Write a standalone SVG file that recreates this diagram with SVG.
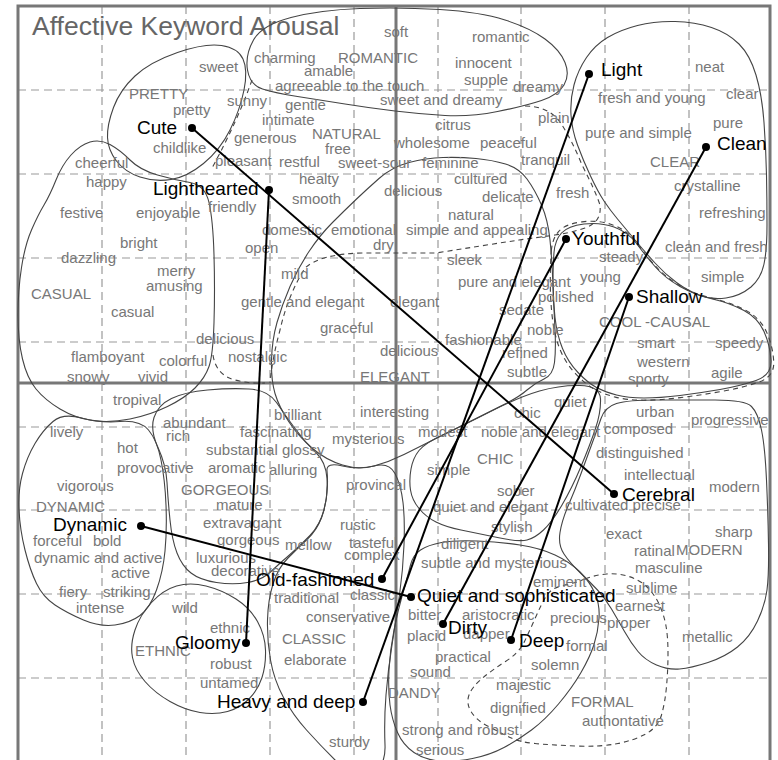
<svg xmlns="http://www.w3.org/2000/svg" width="778" height="760" viewBox="0 0 778 760">
  <style>
    .g { font-family: "Liberation Sans", Arial, sans-serif; font-size: 15px; fill: #777; }
    .k { font-family: "Liberation Sans", Arial, sans-serif; font-size: 19px; fill: #000; }
    .title { font-family: "Liberation Sans", Arial, sans-serif; font-size: 26.5px; fill: #666; }
    .grid { stroke: #9a9a9a; stroke-width: 1.2; stroke-dasharray: 8 5; fill: none; }
    .axis { stroke: #777; stroke-width: 3; fill: none; }
    .reg { fill: none; stroke: #444; stroke-width: 1.1; }
    .regd { fill: none; stroke: #444; stroke-width: 1.1; stroke-dasharray: 5 4; }
    .conn { stroke: #000; stroke-width: 2; fill: none; }
    .dot { fill: #000; }
  </style>

  <rect x="0" y="0" width="778" height="760" fill="#fff"/>

  <!-- dashed reference grid -->
  <g id="grid" class="grid">
    <path d="M102,6V760 M186,6V760 M270,6V760 M354,6V760 M438,6V760 M521,6V760 M605,6V760 M689,6V760"/>
    <path d="M18,90H770 M18,174H770 M18,258H770 M18,342H770 M18,427H770 M18,510H770 M18,594H770 M18,678H770"/>
  </g>

  <!-- frame and the two main axes -->
  <g id="frame">
    <rect x="18" y="6" width="752" height="800" class="axis"/>
    <path class="axis" d="M396,6V760 M18,383H770"/>
  </g>

  <text class="title" x="32" y="35">Affective Keyword Arousal</text>

  <!-- image-scale regions -->
  <g id="regions">
    <path id="r-pretty" class="reg" d="M177.5,52.5 Q205,43 221.5,45.5 Q238,48 243,59 Q248,70 244,90 Q240,110 230,130 Q220,150 203.5,163.5 Q187,177 171,179.5 Q155,182 140,177 Q125,172 116.5,161 Q108,150 107.5,137.5 Q107,125 113.5,107.5 Q120,90 135,76 Q150,62 177.5,52.5 Z"/>
    <path id="r-romantic" class="reg" d="M247.5,70 Q245,55 253.5,40 Q262,25 291,17.5 Q320,10 360,8.5 Q400,7 440,9.5 Q480,12 505,20 Q530,28 545,39 Q560,50 565,62.5 Q570,75 564,85 Q558,95 541.5,100.5 Q525,106 497.5,111.5 Q470,117 445,115.5 Q420,114 395,111 Q370,108 345,104 Q320,100 297.5,96.5 Q275,93 262.5,89 Q250,85 247.5,70 Z"/>
    <path id="r-clear" class="reg" d="M604,201 Q598,192 590.5,176 Q583,160 577.5,145 Q572,130 571,115 Q570,100 574,85 Q578,70 586.5,57.5 Q595,45 607.5,37.5 Q620,30 637.5,25.5 Q655,21 675,21.5 Q695,22 711.5,27.5 Q728,33 739,44 Q750,55 756,75 Q762,95 764,122.5 Q766,150 766.5,175 Q767,200 767,225 Q767,250 764,264 Q761,278 751,287 Q740,296 726,298 Q712,300 700,295.5 Q688,291 676.5,282.5 Q665,274 655,263 Q645,252 635,240 Q625,228 617.5,219 Q610,210 604,201 Z"/>
    <path id="r-casual" class="reg" d="M44,205 Q50,195 56,180 Q62,165 71,155 Q80,145 90,142 Q100,139 110,144.5 Q120,150 130,160 Q140,170 157.5,175 Q175,180 190,182.5 Q205,185 209,202.5 Q213,220 214,255 Q215,290 214,322.5 Q213,355 209,366.5 Q205,378 195,388 Q185,398 167.5,406.5 Q150,415 130,419 Q110,423 92.5,420.5 Q75,418 60,409 Q45,400 36,389 Q27,378 22.5,359 Q18,340 18,315 Q18,290 21.5,267.5 Q25,245 31.5,230 Q38,215 44,205 Z"/>
    <path id="r-natural" class="regd" d="M252,80 Q238,120 212,168 M525,106 Q548,106 560,122 Q572,140 582,165 Q595,190 600,205 Q602,222 585,228 Q570,233 555,235 L519,240 Q480,246 436,253 L362,253 Q320,254 305,268 Q288,295 280,330 Q272,360 270,383 M213,355 Q216,375 235,380 Q250,384 265,383"/>
    <path id="r-elegant" class="reg" d="M379,178.5 Q392,167 409,162.5 Q426,158 443,157.5 Q460,157 476,158.5 Q492,160 505.5,164 Q519,168 527,179 Q535,190 541.5,205 Q548,220 550,240 Q552,260 553,285 Q554,310 555,330 Q556,350 554.5,362.5 Q553,375 544,379 Q535,383 527,390 Q519,397 504,404.5 Q489,412 474,419.5 Q459,427 439,437 Q419,447 404,454.5 Q389,462 374,466 Q359,470 342.5,465 Q326,460 312.5,448.5 Q299,437 289,422 Q279,407 275,393.5 Q271,380 271.5,360 Q272,340 277,322.5 Q282,305 290,286.5 Q298,268 309,251.5 Q320,235 332.5,222.5 Q345,210 355.5,200 Q366,190 379,178.5 Z"/>
    <path id="r-cool" class="reg" d="M554,252.5 Q555,240 561.5,233 Q568,226 584,224 Q600,222 614,227 Q628,232 636.5,243.5 Q645,255 655,266.5 Q665,278 680,286.5 Q695,295 712.5,299 Q730,303 744,310.5 Q758,318 764,331.5 Q770,345 771,360 Q772,375 756,380.5 Q740,386 720,389.5 Q700,393 680,395.5 Q660,398 644,398 Q628,398 616.5,395 Q605,392 596.5,387.5 Q588,383 578,372.5 Q568,362 562.5,348.5 Q557,335 555,317.5 Q553,300 553,282.5 Q553,265 554,252.5 Z"/>
    <path id="r-cool-d" class="regd" transform="translate(662 310) scale(1.025) translate(-662 -310)" d="M554,252.5 Q555,240 561.5,233 Q568,226 584,224 Q600,222 614,227 Q628,232 636.5,243.5 Q645,255 655,266.5 Q665,278 680,286.5 Q695,295 712.5,299 Q730,303 744,310.5 Q758,318 764,331.5 Q770,345 771,360 Q772,375 756,380.5 Q740,386 720,389.5 Q700,393 680,395.5 Q660,398 644,398 Q628,398 616.5,395 Q605,392 596.5,387.5 Q588,383 578,372.5 Q568,362 562.5,348.5 Q557,335 555,317.5 Q553,300 553,282.5 Q553,265 554,252.5 Z"/>
    <path id="r-dynamic" class="reg" d="M53,421.5 Q63,413 81.5,418 Q100,423 120,421.5 Q140,420 148.5,430 Q157,440 161,460 Q165,480 166,505 Q167,530 165,551 Q163,572 156.5,590 Q150,608 140,615.5 Q130,623 115,625 Q100,627 83.5,620 Q67,613 55,605 Q43,597 36.5,583.5 Q30,570 25,550 Q20,530 19,510 Q18,490 22.5,473.5 Q27,457 35,443.5 Q43,430 53,421.5 Z"/>
    <path id="r-gorgeous" class="reg" d="M158,447.5 Q150,430 154,417.5 Q158,405 171.5,398.5 Q185,392 207.5,390 Q230,388 249,389 Q268,390 276.5,402.5 Q285,415 295,428.5 Q305,442 315.5,452 Q326,462 327,478.5 Q328,495 324,510 Q320,525 310,535.5 Q300,546 290,554.5 Q280,563 271,571.5 Q262,580 247.5,582.5 Q233,585 216.5,582.5 Q200,580 191,573 Q182,566 177,553 Q172,540 170,520 Q168,500 167,482.5 Q166,465 158,447.5 Z"/>
    <path id="r-ethnic" class="reg" d="M151.5,602.5 Q163,590 176.5,586 Q190,582 206,586 Q222,590 236,599 Q250,608 257.5,621.5 Q265,635 265.5,650 Q266,665 262,677.5 Q258,690 249,699 Q240,708 227.5,711.5 Q215,715 200,712.5 Q185,710 170,701.5 Q155,693 145,681.5 Q135,670 132.5,657.5 Q130,645 135,630 Q140,615 151.5,602.5 Z"/>
    <path id="r-classic" class="reg" d="M327,471 Q326,462 342.5,466 Q359,470 374,466 Q389,462 395,473.5 Q401,485 403,502.5 Q405,520 404,545 Q403,570 399.5,595 Q396,620 392,645 Q388,670 386,695 Q384,720 385,745 Q386,770 368,772.5 Q350,775 335,760 Q320,745 306.5,730 Q293,715 283.5,697.5 Q274,680 270.5,660 Q267,640 267.5,620 Q268,600 273,584 Q278,568 288,558 Q298,548 307.5,539 Q317,530 321.5,517.5 Q326,505 327,492.5 Q328,480 327,471 Z"/>
    <path id="r-chic" class="reg" d="M410.5,490 Q409,480 411,469 Q413,458 419,450.5 Q425,443 442.5,435 Q460,427 489.5,412 Q519,397 539.5,391 Q560,385 580,385.5 Q600,386 600.5,399 Q601,412 595.5,428.5 Q590,445 581,466.5 Q572,488 562,505 Q552,522 543.5,530 Q535,538 527,540 Q519,542 497.5,537.5 Q476,533 461,530 Q446,527 436,522 Q426,517 419,508.5 Q412,500 410.5,490 Z"/>
    <path id="r-modern" class="reg" d="M601,418.5 Q605,407 616.5,403.5 Q628,400 656.5,400 Q685,400 715,400 Q745,400 751.5,406.5 Q758,413 761.5,430 Q765,447 766.5,480 Q768,513 768.5,544 Q769,575 767,590 Q765,605 757.5,621 Q750,637 737.5,647 Q725,657 708,662.5 Q691,668 679.5,669 Q668,670 656.5,665 Q645,660 638,651.5 Q631,643 624.5,631.5 Q618,620 611.5,609 Q605,598 597.5,590 Q590,582 580,572.5 Q570,563 564,554 Q558,545 560,532.5 Q562,520 568.5,505 Q575,490 580.5,475 Q586,460 591.5,445 Q597,430 601,418.5 Z"/>
    <path id="r-formal" class="regd" d="M585,579 Q575,583 563,585.5 Q551,588 546,596.5 Q541,605 535.5,617.5 Q530,630 524.5,641.5 Q519,653 505.5,661.5 Q492,670 482,678.5 Q472,687 469,695 Q466,703 471,711.5 Q476,720 487.5,726 Q499,732 509,737 Q519,742 535,743.5 Q551,745 576,746 Q601,747 618,743.5 Q635,740 646.5,733.5 Q658,727 661.5,715 Q665,703 666.5,686.5 Q668,670 668,653.5 Q668,637 666,626 Q664,615 659.5,605 Q655,595 647.5,587.5 Q640,580 629,576.5 Q618,573 606.5,574 Q595,575 585,579 Z"/>
    <path id="r-dandy" class="reg" d="M403,592.5 Q408,575 410.5,565 Q413,555 420.5,550 Q428,545 441.5,542.5 Q455,540 477.5,541 Q500,542 520,545 Q540,548 555,555 Q570,562 580,572 Q590,582 595,593.5 Q600,605 599,618.5 Q598,632 594,644.5 Q590,657 581,672.5 Q572,688 558.5,704 Q545,720 531.5,730 Q518,740 504,747.5 Q490,755 472.5,758.5 Q455,762 440,761 Q425,760 414,752.5 Q403,745 397.5,732.5 Q392,720 390,705 Q388,690 389,670 Q390,650 394,630 Q398,610 403,592.5 Z"/>
  </g>

  <!-- keyword vocabulary -->
  <g id="words" class="g">
    <text x="384" y="37">soft</text>
    <text x="472" y="42">romantic</text>
    <text x="199" y="72">sweet</text>
    <text x="254" y="63">charming</text>
    <text x="338" y="63">ROMANTIC</text>
    <text x="304" y="76">amable</text>
    <text x="455" y="68">innocent</text>
    <text x="695" y="72">neat</text>
    <text x="464" y="85">supple</text>
    <text x="275" y="91">agreeable to the touch</text>
    <text x="513" y="92">dreamy</text>
    <text x="129" y="99">PRETTY</text>
    <text x="726" y="99">clear</text>
    <text x="598" y="103">fresh and young</text>
    <text x="380" y="105">sweet and dreamy</text>
    <text x="227" y="106">sunny</text>
    <text x="285" y="110">gentle</text>
    <text x="173" y="115">pretty</text>
    <text x="538" y="123">plain</text>
    <text x="262" y="125">intimate</text>
    <text x="713" y="128">pure</text>
    <text x="435" y="130">citrus</text>
    <text x="585" y="138">pure and simple</text>
    <text x="312" y="139">NATURAL</text>
    <text x="234" y="143">generous</text>
    <text x="394" y="148">wholesome</text>
    <text x="480" y="148">peaceful</text>
    <text x="153" y="153">childlike</text>
    <text x="325" y="154">free</text>
    <text x="521" y="165">tranquil</text>
    <text x="215" y="166">pleasant</text>
    <text x="279" y="167">restful</text>
    <text x="650" y="167">CLEAR</text>
    <text x="338" y="168">sweet-sour</text>
    <text x="422" y="168">feminine</text>
    <text x="75" y="168">cheerful</text>
    <text x="299" y="184">healty</text>
    <text x="454" y="184">cultured</text>
    <text x="86" y="187">happy</text>
    <text x="674" y="191">crystalline</text>
    <text x="384" y="196">delicious</text>
    <text x="556" y="198">fresh</text>
    <text x="482" y="202">delicate</text>
    <text x="292" y="204">smooth</text>
    <text x="208" y="212">friendly</text>
    <text x="60" y="218">festive</text>
    <text x="136" y="218">enjoyable</text>
    <text x="699" y="218">refreshing</text>
    <text x="448" y="220">natural</text>
    <text x="262" y="235">domestic</text>
    <text x="331" y="235">emotional</text>
    <text x="406" y="235">simple and appealing</text>
    <text x="120" y="248">bright</text>
    <text x="373" y="250">dry</text>
    <text x="665" y="252">clean and fresh</text>
    <text x="245" y="253">open</text>
    <text x="599" y="262">steady</text>
    <text x="61" y="263">dazzling</text>
    <text x="447" y="265">sleek</text>
    <text x="157" y="276">merry</text>
    <text x="281" y="279">mild</text>
    <text x="580" y="282">young</text>
    <text x="701" y="282">simple</text>
    <text x="458" y="287">pure and elegant</text>
    <text x="146" y="291">amusing</text>
    <text x="31" y="299">CASUAL</text>
    <text x="538" y="302">polished</text>
    <text x="241" y="307">gentle and elegant</text>
    <text x="390" y="307">elegant</text>
    <text x="499" y="315">sedate</text>
    <text x="111" y="317">casual</text>
    <text x="599" y="327">COOL -CAUSAL</text>
    <text x="320" y="333">graceful</text>
    <text x="527" y="335">noble</text>
    <text x="196" y="344">delicious</text>
    <text x="445" y="345">fashionable</text>
    <text x="637" y="348">smart</text>
    <text x="715" y="348">speedy</text>
    <text x="380" y="356">delicious</text>
    <text x="502" y="358">refined</text>
    <text x="228" y="362">nostalgic</text>
    <text x="71" y="362">flamboyant</text>
    <text x="159" y="366">colorful</text>
    <text x="637" y="367">western</text>
    <text x="507" y="377">subtle</text>
    <text x="711" y="378">agile</text>
    <text x="67" y="382">snowy</text>
    <text x="138" y="382">vivid</text>
    <text x="360" y="382">ELEGANT</text>
    <text x="628" y="384">sporty</text>

    <text x="113" y="405">tropival</text>
    <text x="554" y="407">quiet</text>
    <text x="360" y="417">interesting</text>
    <text x="636" y="417">urban</text>
    <text x="514" y="418">chic</text>
    <text x="274" y="420">brilliant</text>
    <text x="691" y="425">progressive</text>
    <text x="163" y="428">abundant</text>
    <text x="604" y="434">composed</text>
    <text x="50" y="437">lively</text>
    <text x="240" y="437">fascinating</text>
    <text x="418" y="437">modest</text>
    <text x="481" y="437">noble and elegant</text>
    <text x="166" y="441">rich</text>
    <text x="332" y="444">mysterious</text>
    <text x="117" y="453">hot</text>
    <text x="206" y="455">substantial glossy</text>
    <text x="596" y="458">distinguished</text>
    <text x="477" y="464">CHIC</text>
    <text x="117" y="473">provocative</text>
    <text x="208" y="473">aromatic</text>
    <text x="269" y="475">alluring</text>
    <text x="427" y="475">simple</text>
    <text x="624" y="480">intellectual</text>
    <text x="346" y="490">provincal</text>
    <text x="57" y="491">vigorous</text>
    <text x="709" y="492">modern</text>
    <text x="181" y="495">GORGEOUS</text>
    <text x="497" y="496">sober</text>
    <text x="216" y="510">mature</text>
    <text x="565" y="510">cultivated precise</text>
    <text x="36" y="512">DYNAMIC</text>
    <text x="433" y="512">quiet and elegant</text>
    <text x="203" y="528">extravagant</text>
    <text x="340" y="530">rustic</text>
    <text x="491" y="532">stylish</text>
    <text x="715" y="537">sharp</text>
    <text x="606" y="539">exact</text>
    <text x="217" y="545">gorgeous</text>
    <text x="33" y="546">forceful</text>
    <text x="93" y="546">bold</text>
    <text x="349" y="548">tasteful</text>
    <text x="441" y="549">diligent</text>
    <text x="285" y="550">mellow</text>
    <text x="676" y="555">MODERN</text>
    <text x="634" y="556">ratinal</text>
    <text x="344" y="560">complex</text>
    <text x="34" y="563">dynamic and active</text>
    <text x="196" y="563">luxurious</text>
    <text x="421" y="568">subtle and mysterious</text>
    <text x="635" y="573">masculine</text>
    <text x="211" y="576">decorative</text>
    <text x="111" y="578">active</text>
    <text x="533" y="587">eminent</text>
    <text x="626" y="593">sublime</text>
    <text x="59" y="597">fiery</text>
    <text x="103" y="597">striking</text>
    <text x="350" y="600">classic</text>
    <text x="274" y="603">traditional</text>
    <text x="615" y="611">earnest</text>
    <text x="172" y="613">wild</text>
    <text x="76" y="613">intense</text>
    <text x="306" y="622">conservative</text>
    <text x="408" y="620">bitter</text>
    <text x="462" y="620">aristocratic</text>
    <text x="550" y="623">precious</text>
    <text x="607" y="628">proper</text>
    <text x="210" y="633">ethnic</text>
    <text x="407" y="641">placid</text>
    <text x="463" y="639">dapper</text>
    <text x="682" y="642">metallic</text>
    <text x="282" y="644">CLASSIC</text>
    <text x="566" y="651">formal</text>
    <text x="135" y="656">ETHNIC</text>
    <text x="435" y="662">practical</text>
    <text x="284" y="665">elaborate</text>
    <text x="210" y="669">robust</text>
    <text x="531" y="670">solemn</text>
    <text x="410" y="677">sound</text>
    <text x="200" y="688">untamed</text>
    <text x="496" y="690">majestic</text>
    <text x="388" y="698">DANDY</text>
    <text x="571" y="707">FORMAL</text>
    <text x="490" y="713">dignified</text>
    <text x="582" y="726">authontative</text>
    <text x="402" y="735">strong and robust</text>
    <text x="329" y="747">sturdy</text>
    <text x="416" y="755">serious</text>
  </g>

  <!-- connectors between opposite keywords -->
  <g id="connectors" class="conn">
    <line x1="192" y1="128" x2="614" y2="494"/>
    <line x1="269" y1="190" x2="246" y2="643"/>
    <line x1="589" y1="74" x2="363" y2="702"/>
    <line x1="706" y1="147" x2="443" y2="624"/>
    <line x1="566" y1="239" x2="382" y2="579"/>
    <line x1="629" y1="297" x2="511" y2="640"/>
    <line x1="141" y1="526" x2="411" y2="597"/>
  </g>

  <!-- keyword nodes -->
  <g id="n-cute"><circle class="dot" cx="192" cy="128" r="4"/><text class="k" x="137" y="134">Cute</text></g>
  <g id="n-lighthearted"><circle class="dot" cx="269" cy="190" r="4"/><text class="k" x="153" y="195">Lighthearted</text></g>
  <g id="n-light"><circle class="dot" cx="589" cy="74" r="4"/><text class="k" x="601" y="76">Light</text></g>
  <g id="n-clean"><circle class="dot" cx="706" cy="147" r="4"/><text class="k" x="717" y="150">Clean</text></g>
  <g id="n-youthful"><circle class="dot" cx="566" cy="239" r="4"/><text class="k" x="572" y="245">Youthful</text></g>
  <g id="n-shallow"><circle class="dot" cx="629" cy="297" r="4"/><text class="k" x="636" y="303">Shallow</text></g>
  <g id="n-cerebral"><circle class="dot" cx="614" cy="494" r="4"/><text class="k" x="622" y="501">Cerebral</text></g>
  <g id="n-dynamic"><circle class="dot" cx="141" cy="526" r="4"/><text class="k" x="53" y="531">Dynamic</text></g>
  <g id="n-oldfashioned"><circle class="dot" cx="382" cy="579" r="4"/><text class="k" x="256" y="586">Old-fashioned</text></g>
  <g id="n-quiet"><circle class="dot" cx="411" cy="597" r="4"/><text class="k" x="417" y="602">Quiet and sophisticated</text></g>
  <g id="n-dirty"><circle class="dot" cx="443" cy="624" r="4"/><text class="k" x="448" y="634">Dirty</text></g>
  <g id="n-deep"><circle class="dot" cx="511" cy="640" r="4"/><text class="k" x="519" y="647">Deep</text></g>
  <g id="n-gloomy"><circle class="dot" cx="246" cy="643" r="4"/><text class="k" x="175" y="649">Gloomy</text></g>
  <g id="n-heavy"><circle class="dot" cx="363" cy="702" r="4"/><text class="k" x="217" y="708">Heavy and deep</text></g>
</svg>
